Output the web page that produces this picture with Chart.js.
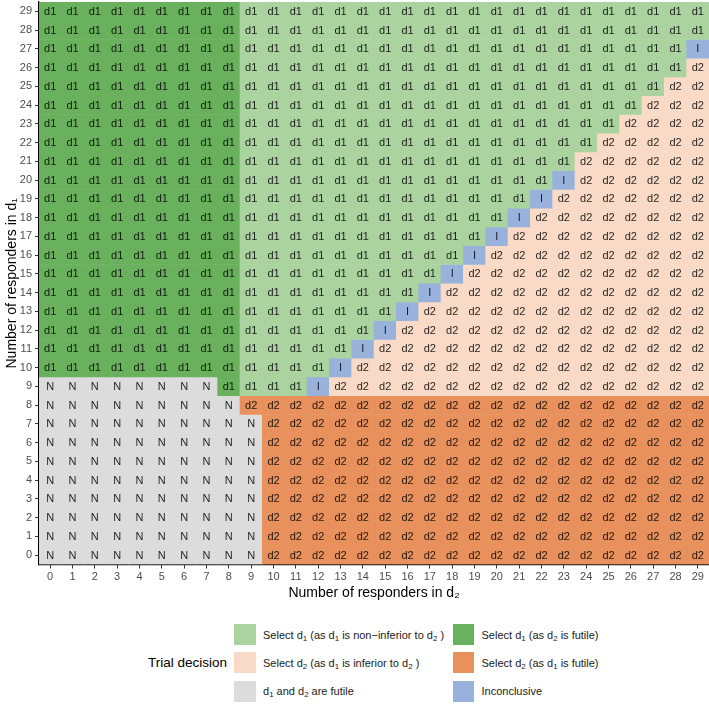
<!DOCTYPE html>
<html lang="en">
<head>
<meta charset="UTF-8">
<title>Trial decision by number of responders</title>
<style>
  body { margin: 0; background: #fff; font-family: "Liberation Sans", Arial, sans-serif; }
  #wrap { position: relative; width: 709px; height: 709px; overflow: hidden; }
  #plot { position: absolute; left: 0; top: 0; width: 709px; height: 612px; }
  #legendTitle { position: absolute; left: 148px; top: 655px; font-size: 13.5px; line-height: 16px; color: #000; }
  #legend { position: absolute; left: 234px; top: 624px; display: grid;
            grid-template-columns: 218.5px 218.5px; row-gap: 7.3px; }
  .item { display: flex; align-items: center; height: 21px; }
  .key { width: 21.5px; height: 21px; flex: none; }
  .txt { margin-left: 7.5px; font-size: 11px; color: #1a1a1a; white-space: nowrap; }
  sub { font-size: 72%; vertical-align: -0.3em; line-height: 0; }
</style>
</head>
<body>
<div id="wrap">
  <div id="plot"><canvas id="chart"></canvas></div>
  <div id="legendTitle">Trial decision</div>
  <div id="legend"></div>
</div>

<script src="https://cdn.jsdelivr.net/npm/chart.js"></script>
<script>
  // x: responders in d2, y: responders in d1
  const d2Responders = [0, 1, 2, 3, 4, 5, 6, 7, 8, 9, 10, 11, 12, 13, 14,
                        15, 16, 17, 18, 19, 20, 21, 22, 23, 24, 25, 26, 27, 28, 29];
  const d1Responders = [29, 28, 27, 26, 25, 24, 23, 22, 21, 20, 19, 18, 17, 16, 15,
                        14, 13, 12, 11, 10, 9, 8, 7, 6, 5, 4, 3, 2, 1, 0];

  // one string per d1 row (top row first), one letter per d2 column, spaces every 5 columns
  // g = d1 non-inferior, G = d2 futile, p = d1 inferior, O = d1 futile, N = both futile, I = inconclusive
  const decisionRows = [
    "GGGGG GGGGg ggggg ggggg ggggg ggggg", // 29
    "GGGGG GGGGg ggggg ggggg ggggg ggggg", // 28
    "GGGGG GGGGg ggggg ggggg ggggg ggggI", // 27
    "GGGGG GGGGg ggggg ggggg ggggg ggggp", // 26
    "GGGGG GGGGg ggggg ggggg ggggg gggpp", // 25
    "GGGGG GGGGg ggggg ggggg ggggg ggppp", // 24
    "GGGGG GGGGg ggggg ggggg ggggg gpppp", // 23
    "GGGGG GGGGg ggggg ggggg ggggg ppppp", // 22
    "GGGGG GGGGg ggggg ggggg ggggp ppppp", // 21
    "GGGGG GGGGg ggggg ggggg gggIp ppppp", // 20
    "GGGGG GGGGg ggggg ggggg ggIpp ppppp", // 19
    "GGGGG GGGGg ggggg ggggg gIppp ppppp", // 18
    "GGGGG GGGGg ggggg ggggg Ipppp ppppp", // 17
    "GGGGG GGGGg ggggg ggggI ppppp ppppp", // 16
    "GGGGG GGGGg ggggg gggIp ppppp ppppp", // 15
    "GGGGG GGGGg ggggg ggIpp ppppp ppppp", // 14
    "GGGGG GGGGg ggggg gIppp ppppp ppppp", // 13
    "GGGGG GGGGg ggggg Ipppp ppppp ppppp", // 12
    "GGGGG GGGGg ggggI ppppp ppppp ppppp", // 11
    "GGGGG GGGGg gggIp ppppp ppppp ppppp", // 10
    "NNNNN NNNGg ggIpp ppppp ppppp ppppp", // 9
    "NNNNN NNNNO OOOOO OOOOO OOOOO OOOOO", // 8
    "NNNNN NNNNN OOOOO OOOOO OOOOO OOOOO", // 7
    "NNNNN NNNNN OOOOO OOOOO OOOOO OOOOO", // 6
    "NNNNN NNNNN OOOOO OOOOO OOOOO OOOOO", // 5
    "NNNNN NNNNN OOOOO OOOOO OOOOO OOOOO", // 4
    "NNNNN NNNNN OOOOO OOOOO OOOOO OOOOO", // 3
    "NNNNN NNNNN OOOOO OOOOO OOOOO OOOOO", // 2
    "NNNNN NNNNN OOOOO OOOOO OOOOO OOOOO", // 1
    "NNNNN NNNNN OOOOO OOOOO OOOOO OOOOO"  // 0
  ];

  const decisionCodes = ['g', 'G', 'p', 'O', 'N', 'I'];
  const decisionColors = ['#aad3a0', '#6ab15d', '#f9dac6', '#e8915c', '#dcdcdc', '#98b2dc'];
  const cellLabels = ['d1', 'd1', 'd2', 'd2', 'N', 'I'];
  const legendLabels = [
    'Select d<sub>1</sub> (as d<sub>1</sub> is non\u2212inferior to d<sub>2</sub> )',
    'Select d<sub>1</sub> (as d<sub>2</sub> is futile)',
    'Select d<sub>2</sub> (as d<sub>1</sub> is inferior to d<sub>2</sub> )',
    'Select d<sub>2</sub> (as d<sub>1</sub> is futile)',
    'd<sub>1</sub> and d<sub>2</sub> are futile',
    'Inconclusive'
  ];

  const rowCodes = decisionRows.map(s => s.replace(/ /g, '').split(''));
  rowCodes.forEach((r, i) => {
    if (r.length !== d2Responders.length) throw new Error('row ' + d1Responders[i] + ' has ' + r.length);
  });

  const FONT = '"Liberation Sans", Arial, sans-serif';

  const datasets = d1Responders.map((r, i) => ({
    label: 'd1 = ' + r,
    data: d2Responders.map(() => [r - 0.5, r + 0.5]),
    backgroundColor: rowCodes[i].map(c => decisionColors[decisionCodes.indexOf(c)]),
    borderWidth: 0,
    barPercentage: 1,
    categoryPercentage: 1,
    grouped: false
  }));

  // writes d1 / d2 / N / I in the middle of each cell
  const cellText = {
    id: 'cellText',
    afterDatasetsDraw(chart) {
      const { ctx, scales: { x, y } } = chart;
      ctx.save();
      ctx.font = '11px ' + FONT;
      ctx.fillStyle = 'rgba(0,0,0,0.85)';
      ctx.textAlign = 'center';
      ctx.textBaseline = 'middle';
      d1Responders.forEach((r, i) => {
        rowCodes[i].forEach((c, j) => {
          ctx.fillText(cellLabels[decisionCodes.indexOf(c)], x.getPixelForValue(j), y.getPixelForValue(r) + 0.5);
        });
      });
      ctx.restore();
    }
  };

  new Chart(document.getElementById('chart'), {
    type: 'bar',
    data: { labels: d2Responders, datasets: datasets },
    options: {
      responsive: true,
      maintainAspectRatio: false,
      animation: false,
      layout: { padding: { top: 2, right: 0, left: 0, bottom: 0 } },
      plugins: { legend: { display: false }, tooltip: { enabled: false } },
      scales: {
        x: {
          type: 'category',
          offset: true,
          grid: { offset: false, drawOnChartArea: false, drawTicks: true, tickLength: 4, color: '#333' },
          border: { display: true, color: '#000', width: 1.2 },
          ticks: { color: '#4d4d4d', font: { family: FONT, size: 11 }, padding: 2,
                   autoSkip: false, maxRotation: 0 },
          title: { display: true, text: 'Number of responders in d\u2082', color: '#000',
                   font: { family: FONT, size: 14 }, padding: { top: 0, bottom: 10.5 } },
          afterFit(s) { s.height = 47.5; s.paddingLeft = 0; s.paddingRight = 0; }
        },
        y: {
          type: 'linear',
          min: -0.5,
          max: 29.5,
          afterBuildTicks(s) { s.ticks = d1Responders.slice().reverse().map(v => ({ value: v })); },
          grid: { drawOnChartArea: false, drawTicks: true, tickLength: 4, color: '#333' },
          border: { display: true, color: '#000', width: 1.2 },
          ticks: { color: '#4d4d4d', font: { family: FONT, size: 11 }, padding: 3, autoSkip: false },
          title: { display: true, text: 'Number of responders in d\u2081', color: '#000',
                   font: { family: FONT, size: 14 }, padding: { top: 4, bottom: 0 } },
          afterFit(s) { s.width = 39; s.paddingTop = 0; s.paddingBottom = 0; }
        }
      }
    },
    plugins: [cellText]
  });

  // legend: two columns, filled row by row
  const legend = document.getElementById('legend');
  legendLabels.forEach((txt, i) => {
    const item = document.createElement('div');
    item.className = 'item';
    item.innerHTML = '<div class="key" style="background:' + decisionColors[i] + '"></div>' +
                     '<div class="txt">' + txt + '</div>';
    legend.appendChild(item);
  });
</script>
</body>
</html>
